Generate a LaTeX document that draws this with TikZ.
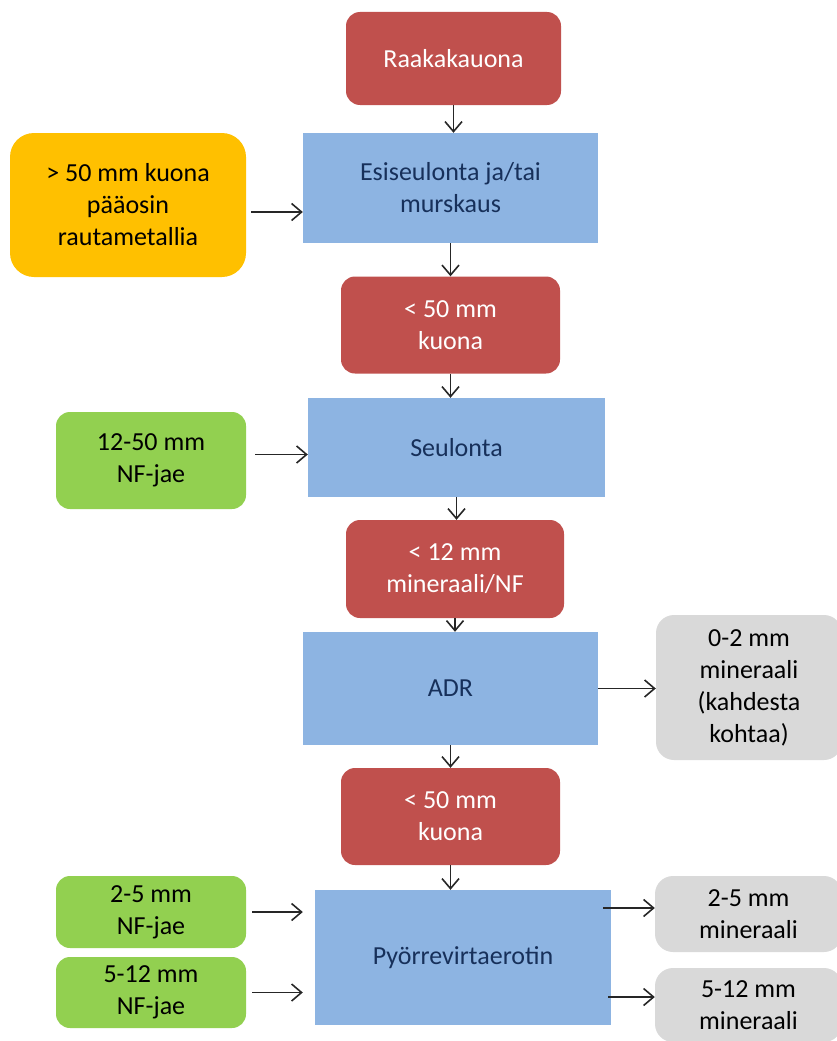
\documentclass[tikz,border=0pt]{standalone}
\usepackage{fontspec}
\setmainfont{Carlito}
\usetikzlibrary{arrows.meta}
\definecolor{slagred}{RGB}{192, 80, 77}
\definecolor{stepblue}{RGB}{141, 180, 226}
\definecolor{navytext}{RGB}{23, 48, 90}
\definecolor{ironyellow}{RGB}{255, 192, 0}
\definecolor{nfgreen}{RGB}{146, 208, 80}
\definecolor{mineralgray}{RGB}{217, 217, 217}
\tikzset{
  box/.style={inner sep=0pt, align=center, font=\fontsize{26}{32}\selectfont},
  redbox/.style={box, fill=slagred, rounded corners=14pt, text=white},
  bluebox/.style={box, fill=stepblue, text=navytext},
  yellowbox/.style={box, fill=ironyellow, rounded corners=24pt},
  greenbox/.style={box, fill=nfgreen, rounded corners=14pt},
  graybox/.style={box, fill=mineralgray, rounded corners=18pt},
  flow/.style={draw=black!85, line width=1.6pt, -{Straight Barb[length=10pt,width=17pt]}}
}
\begin{document}
\begin{tikzpicture}[x=1pt, y=-1pt]
            \useasboundingbox (0,0) rectangle (836,1041);
            % Main line
            \node[redbox,  minimum width=215pt, minimum height=93pt]  (raw)     at (453.5,  58.5) {Raakakauona};
            \node[bluebox, minimum width=295pt, minimum height=110pt] (pre)     at (450.5, 188.0) {Esiseulonta ja/tai\\murskaus};
            \node[redbox,  minimum width=219pt, minimum height=97pt]  (under50) at (450.5, 325.0) {< 50 mm\\kuona};
            \node[bluebox, minimum width=297pt, minimum height=99pt]  (screen)  at (456.5, 447.5) {Seulonta};
            \node[redbox,  minimum width=218pt, minimum height=98pt]  (under12) at (455.0, 569.0) {< 12 mm\\mineraali/NF};
            \node[bluebox, minimum width=295pt, minimum height=113pt] (adr)     at (450.5, 688.5) {ADR};
            \node[redbox,  minimum width=219pt, minimum height=97pt]  (slag)    at (450.5, 816.5) {< 50 mm\\kuona};
            \node[bluebox, minimum width=296pt, minimum height=135pt] (eddy)    at (463.0, 957.5) {Pyörrevirtaerotin};
            % Side streams in
            \node[yellowbox, minimum width=236pt, minimum height=144pt] (over50) at (128.0, 205.0) {> 50 mm kuona\\pääosin\\rautametallia};
            \node[greenbox,  minimum width=190pt, minimum height=97pt]  (nf1250) at (151.0, 460.5) {12-50 mm\\NF-jae};
            \node[greenbox,  minimum width=190pt, minimum height=72pt]  (nf25)   at (151.0, 912.0) {2-5 mm\\NF-jae};
            \node[greenbox,  minimum width=190pt, minimum height=71pt]  (nf512)  at (151.0, 992.5) {5-12 mm\\NF-jae};
            % Side streams out
            \node[graybox, minimum width=186pt, minimum height=145pt] (min02)  at (749.0, 687.5) {0-2 mm\\mineraali\\(kahdesta\\kohtaa)};
            \node[graybox, minimum width=187pt, minimum height=76pt]  (min25)  at (748.5, 914.0) {2-5 mm\\mineraali};
            \node[graybox, minimum width=187pt, minimum height=74pt]  (min512) at (748.5, 1005.0) {5-12 mm\\mineraali};
            % Flow down
            \draw[flow] (raw.south)     -- (raw.south |- pre.north);
            \draw[flow] (pre.south)     -- (pre.south |- under50.north);
            \draw[flow] (under50.south) -- (under50.south |- screen.north);
            \draw[flow] (screen.south)  -- (screen.south |- under12.north);
            \draw[flow] (under12.south) -- (under12.south |- adr.north);
            \draw[flow] (adr.south)     -- (adr.south |- slag.north);
            \draw[flow] (slag.south)    -- (slag.south |- eddy.north);
            % Flow sideways
            \draw[flow] ([xshift=5pt, yshift=-7pt]over50.east) -- ([yshift=-7pt]over50.east -| pre.west);
            \draw[flow] ([xshift=9pt, yshift=6pt]nf1250.east)  -- ([yshift=6pt]nf1250.east -| screen.west);
            \draw[flow] (adr.east) -- (adr.east -| min02.west);
            \draw[flow, shorten >=12pt] ([xshift=6pt]nf25.east)  -- (nf25.east -| eddy.west);
            \draw[flow, shorten >=12pt] ([xshift=6pt]nf512.east) -- (nf512.east -| eddy.west);
            \draw[flow] ([xshift=-8pt, yshift=6pt]eddy.east |- min25.west) -- ([yshift=6pt]min25.west);
            \draw[flow] ([xshift=-3pt, yshift=8pt]eddy.east |- min512.west) -- ([yshift=8pt]min512.west);
        \end{tikzpicture}
\end{document}
